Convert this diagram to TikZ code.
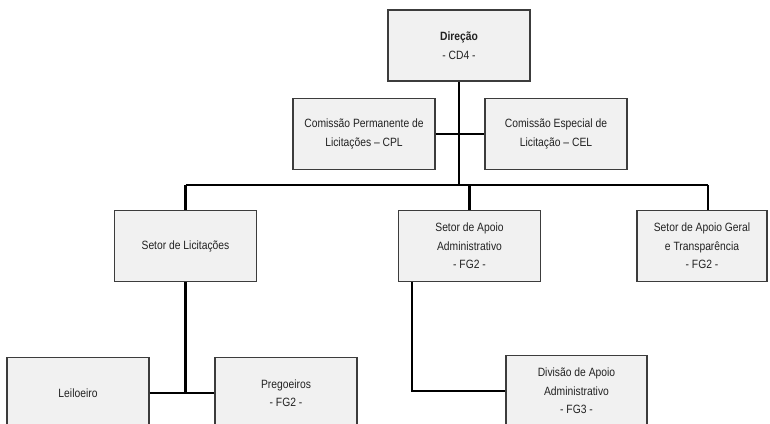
\documentclass[tikz,border=0pt]{standalone}
\usepackage{fontspec}
\setmainfont{Liberation Sans}[FakeStretch=0.86]
\usepackage{tikz}
\usetikzlibrary{positioning,calc}
\definecolor{boxfill}{HTML}{F1F1F1}
\definecolor{boxline}{HTML}{3C3C3C}
\definecolor{boxtext}{HTML}{222222}
\tikzset{
    unit/.style={
        draw=boxline,
        fill=boxfill,
        line width=1.1pt,
        minimum width=142pt,
        minimum height=71pt,
        inner sep=2pt,
        align=center,
        text=boxtext,
        font=\fontsize{12}{18.5}\selectfont
    },
    link/.style={
        draw=black,
        line width=2.6pt
    }
}

\begin{document}
\begin{tikzpicture}[x=1pt,y=-1pt]
  \useasboundingbox (0,0) rectangle (770,423);

  % Top level
  \node[unit] (dir) at (459,45.5) {\textbf{Direção}\\- CD4 -};

  % Commissions beside the main line
  \node[unit] (cpl) at (364,134) {Comissão Permanente de\\Licitações -- CPL};
  \node[unit] (cel) at (556,134) {Comissão Especial de\\Licitação -- CEL};

  % Sectors
  \node[unit] (lic) at (185.5,246) {Setor de Licitações};
  \node[unit] (adm) at (469.5,246) {Setor de Apoio\\Administrativo\\- FG2 -};
  \node[unit, minimum width=130pt] (ger) at (702,246) {Setor de Apoio Geral\\e Transparência\\- FG2 -};

  % Lower level
  \node[unit] (lei) at (78,393) {Leiloeiro};
  \node[unit] (pre) at (286,393) {Pregoeiros\\- FG2 -};
  \node[unit, minimum width=141pt] (div) at (576.5,391) {Divisão de Apoio\\Administrativo\\- FG3 -};

  % Bus coordinates
  \coordinate (busL) at (185.5,185);
  \coordinate (busR) at (708,185);
  \coordinate (admdrop) at ([xshift=14pt]adm.south west);

  % Connectors
  \draw[link] (dir.south) -- (dir.south |- busL);
  \draw[link] (cpl) -- (cel);
  \draw[link] (busL) -- (busR);
  \draw[link] (busL) -- (lic.north);
  \draw[link] (adm.north) -- (adm.north |- busL);
  \draw[link] (busR) -- (busR |- ger.north);
  \draw[link] (lic.south) -- (lic.south |- lei.east);
  \draw[link] (lei) -- (pre);
  \draw[link] (admdrop) |- (div.west);
\end{tikzpicture}
\end{document}
